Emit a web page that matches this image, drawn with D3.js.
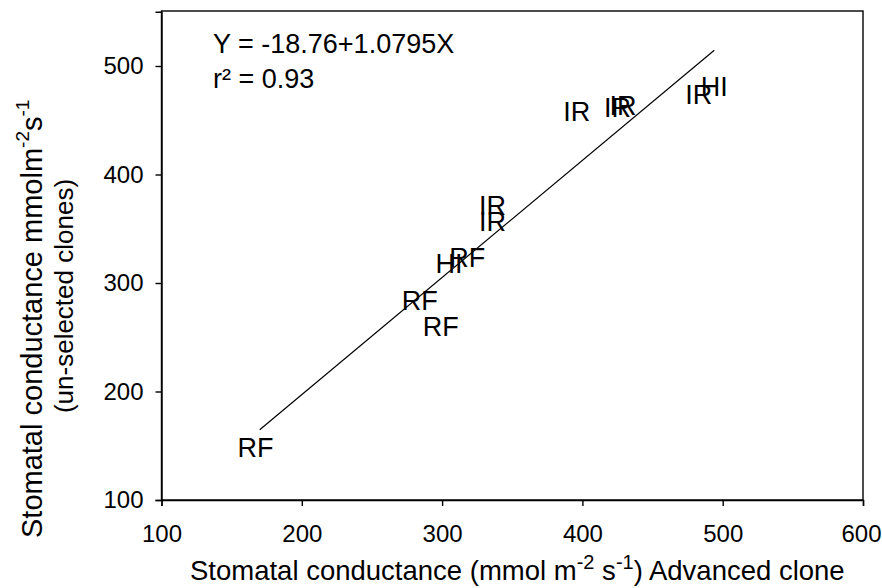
<!DOCTYPE html>
<html>
<head>
<meta charset="utf-8">
<script src="https://cdn.jsdelivr.net/npm/d3@7"></script>
<style>
  html, body { margin: 0; padding: 0; background: #fff; }
  svg { display: block; font-family: "Liberation Sans", Arial, Helvetica, sans-serif; }
</style>
</head>
<body>
<svg id="chart" width="882" height="588"></svg>
<script>
// Clone group code for each point (drawn as the point's marker)
const groups = ["RF", "RF", "RF", "HI", "RF", "IR", "IR", "IR", "IR", "IR", "IR", "HI"];
// Stomatal conductance, advanced clone (mmol m-2 s-1)
const advanced = [167, 284, 299, 305, 318, 336, 336, 396, 425, 429, 483, 494];
// Stomatal conductance, un-selected clones (mmol m-2 s-1)
const unselected = [149, 284, 260, 318, 324, 372, 357, 458, 462, 464, 474, 481];

// Fitted regression
const intercept = -18.76;
const slope = 1.0795;
const rSquared = 0.93;
const fitRange = [170, 494];

const xTicks = [100, 200, 300, 400, 500, 600];
const yTicks = [100, 200, 300, 400, 500];

const svg = d3.select("#chart");
const plot = { left: 161.5, right: 863, top: 11, bottom: 500 };

const x = d3.scaleLinear().domain([100, 600]).range([plot.left, plot.right]);
const y = d3.scaleLinear().domain([100, 550]).range([plot.bottom, plot.top + 0.75]);

// Frame
svg.append("rect")
  .attr("x", plot.left).attr("y", plot.top)
  .attr("width", plot.right - plot.left).attr("height", plot.bottom - plot.top)
  .attr("fill", "none").attr("stroke", "#000").attr("stroke-width", 1.4);

// Axes
const xAxis = svg.append("g")
  .attr("transform", `translate(0,${plot.bottom})`)
  .call(d3.axisBottom(x).tickValues(xTicks).tickSize(6).tickPadding(19).tickFormat(d3.format("d")));
const yAxis = svg.append("g")
  .attr("transform", `translate(${plot.left},0)`)
  .call(d3.axisLeft(y).tickValues(yTicks).tickSize(6).tickPadding(12).tickFormat(d3.format("d")));

[xAxis, yAxis].forEach(g => {
  g.select(".domain").attr("stroke-width", 1.4);
  g.selectAll(".tick line").attr("stroke-width", 1.4);
  g.selectAll(".tick text")
    .attr("fill", "#000")
    .style("font-family", "'Liberation Sans', Arial, sans-serif")
    .style("font-size", "24px");
});
xAxis.selectAll(".tick text").attr("dy", "0.71em");
// Keep the last x label inside the canvas edge
xAxis.selectAll(".tick text").filter(d => d === 600).attr("dx", -2);

// Regression line
const fitLine = d3.line().x(d => x(d)).y(d => y(intercept + slope * d));
svg.append("path")
  .attr("d", fitLine(fitRange))
  .attr("fill", "none").attr("stroke", "#000").attr("stroke-width", 1.2);

// Point markers: group code centred on each point
svg.append("g").selectAll("text")
  .data(groups.map((g, i) => ({ g, xv: advanced[i], yv: unselected[i] })))
  .join("text")
  .attr("x", d => x(d.xv))
  .attr("y", d => y(d.yv))
  .attr("dy", "0.36em")
  .attr("text-anchor", "middle")
  .style("font-size", "27px")
  .text(d => d.g);

// Regression equation
const eq = svg.append("g").style("font-size", "27px");
eq.append("text").attr("x", 213).attr("y", 53)
  .text(`Y = ${intercept}+${slope}X`);
eq.append("text").attr("x", 213).attr("y", 88)
  .text(`r\u00B2 = ${rSquared}`);

// Superscript helper: raise a small run, and drop the next run back to the baseline
function withSup(text, parts, lift) {
  let shift = 0;
  parts.forEach(p => {
    const ts = text.append("tspan").text(p.t);
    if (p.sup) {
      ts.attr("dy", shift - lift).style("font-size", p.size + "px");
      shift = lift;
    } else {
      if (shift) ts.attr("dy", shift);
      shift = 0;
    }
  });
}

// X axis title
const xt = svg.append("text")
  .attr("x", 190).attr("y", 580)
  .style("font-size", "27.5px");
withSup(xt, [
  { t: "Stomatal conductance (mmol m" },
  { t: "-2", sup: true, size: 20 },
  { t: " s" },
  { t: "-1", sup: true, size: 20 },
  { t: ") Advanced clone" }
], 11);

// Y axis title (two lines)
const yt1 = svg.append("text")
  .attr("transform", "translate(42,538) rotate(-90)")
  .style("font-size", "29px");
withSup(yt1, [
  { t: "Stomatal conductance mmolm" },
  { t: "-2", sup: true, size: 19 },
  { t: "s" },
  { t: "-1", sup: true, size: 19 }
], 13);

svg.append("text")
  .attr("transform", "translate(73,296) rotate(-90)")
  .attr("text-anchor", "middle")
  .style("font-size", "26px")
  .text("(un-selected clones)");
</script>
</body>
</html>
